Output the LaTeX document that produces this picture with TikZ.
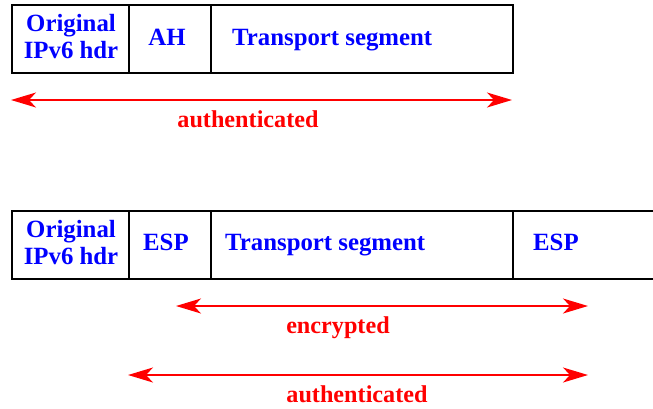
\documentclass[tikz,border=0pt]{standalone}
\usepackage{fontspec}
\setmainfont{Liberation Serif}
\usetikzlibrary{arrows.meta}
\begin{document}
\begin{tikzpicture}[x=1pt,y=-1pt,
  cell/.style={draw=black,line width=1.5pt,minimum height=68pt,inner sep=0pt,anchor=north west},
  txt/.style={text=blue,font=\fontsize{24.8}{27}\selectfont\bfseries,align=center,inner sep=0pt},
  rtxt/.style={text=red,font=\fontsize{24.2}{27}\selectfont\bfseries,inner sep=0pt,anchor=base},
  arr/.style={red,line width=1.5pt,{Stealth[length=25pt,width=15pt,inset=7pt]}-{Stealth[length=25pt,width=15pt,inset=7pt]}}]
\useasboundingbox (0,0) rectangle (653,408);
% top packet
\node[cell,minimum width=117pt] (a1) at (11,4) {};
\node[cell,minimum width=82pt] (a2) at (128,4) {};
\node[cell,minimum width=302pt] (a3) at (210,4) {};
\node[txt] (t1) at (71,37) {Original\\IPv6 hdr};
\node[txt] (t2) at (167,37) {AH};
\node[txt,anchor=base west] (t3) at (232,45) {Transport segment};
\coordinate (l1) at (11,100);
\coordinate (r1) at (512,100);
\draw[arr] (l1) -- (r1);
\node[rtxt] (au1) at (248,127) {authenticated};
% bottom packet
\node[cell,minimum width=117pt] (b1) at (11,210) {};
\node[cell,minimum width=82pt] (b2) at (128,210) {};
\node[cell,minimum width=302pt] (b3) at (210,210) {};
\node[cell,minimum width=160pt] (b4) at (512,210) {};
\node[txt] (s1) at (71,243) {Original\\IPv6 hdr};
\node[txt,anchor=base west] (s2) at (143,250) {ESP};
\node[txt,anchor=base west] (s3) at (225,250) {Transport segment};
\node[txt,anchor=base west] (s4) at (533,250) {ESP};
\coordinate (l2) at (176,306);
\coordinate (r2) at (588,306);
\draw[arr] (l2) -- (r2);
\node[rtxt] (en) at (338,333) {encrypted};
\coordinate (l3) at (128,375);
\coordinate (r3) at (588,375);
\draw[arr] (l3) -- (r3);
\node[rtxt] (au2) at (357,402) {authenticated};
\end{tikzpicture}
\end{document}
